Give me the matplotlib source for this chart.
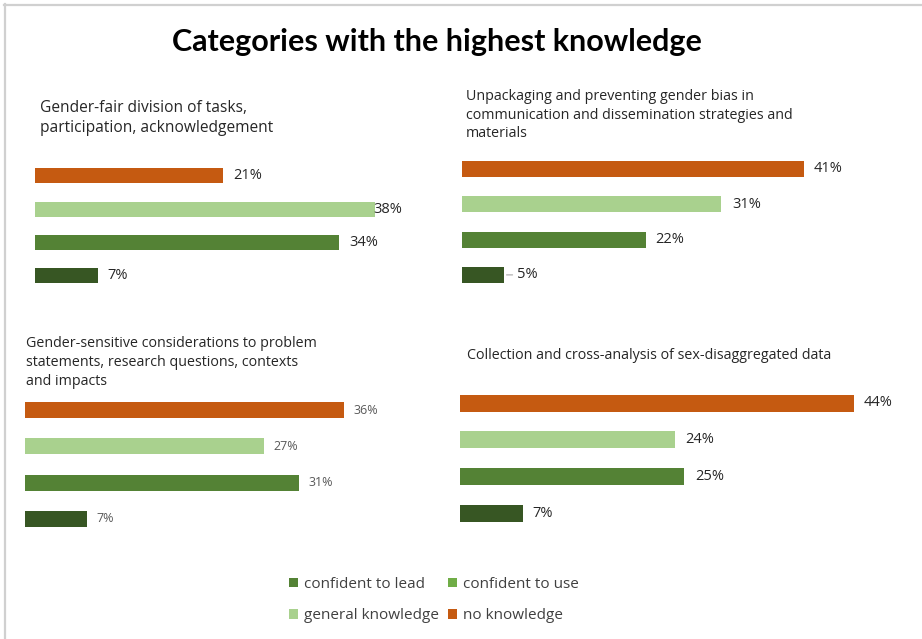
import matplotlib
matplotlib.use("Agg")
import matplotlib.pyplot as plt
from matplotlib.patches import Patch
from matplotlib.lines import Line2D

# ---------------- data ----------------
title = "Categories with the highest knowledge"
panel_titles = [
    "Gender-fair division of tasks,\nparticipation, acknowledgement",
    "Unpackaging and preventing gender bias in\ncommunication and dissemination strategies and\nmaterials",
    "Gender-sensitive considerations to problem\nstatements, research questions, contexts\nand impacts",
    "Collection and cross-analysis of sex-disaggregated data",
]
# order of bars top -> bottom
bar_series = ["no knowledge", "general knowledge", "confident to use", "confident to lead"]
panel1_values = [21, 38, 34, 7]
panel2_values = [41, 31, 22, 5]
panel3_values = [36, 27, 31, 7]
panel4_values = [44, 24, 25, 7]
legend_labels = ["confident to lead", "confident to use", "general knowledge", "no knowledge"]

# ---------------- style ----------------
W, H = 922, 639
bar_colors = ["#C55A11", "#A9D18E", "#548235", "#375623"]
legend_colors = ["#548235", "#70AD47", "#A9D18E", "#C55A11"]
txt_color = "#262626"
FONT = "Open Sans"

fig = plt.figure(figsize=(W / 100, H / 100), dpi=100)
fig.patch.set_facecolor("white")


def px_axes(left, top, width, height):
    return fig.add_axes([left / W, 1 - (top + height) / H, width / W, height / H])


# panel layout: (bar start x, px per %, first bar centre y, spacing, bar height px)
layouts = [
    (35, 8.95, 176, 33.3, 15),
    (462, 8.35, 169, 35.3, 16),
    (25, 8.85, 410, 36.3, 16),
    (460, 8.95, 403, 36.7, 17),
]
# panel title: (x, y of top, font size, line spacing)
title_pos = [(40, 100, 11.2, 1.3), (466, 89, 10.3, 1.33), (26, 336, 10.3, 1.38), (467, 348, 10.3, 1.3)]
label_offsets = [
    [10, -2, 10, 10],
    [9, 11, 10, 13],
    [10, 9, 9, 10],
    [10, 10, 11, 10],
]
label_styles = [
    dict(fontsize=10.5, color=txt_color),
    dict(fontsize=10.5, color=txt_color),
    dict(fontsize=9, color="#595959"),
    dict(fontsize=10.5, color=txt_color),
]
all_values = [panel1_values, panel2_values, panel3_values, panel4_values]

for i, (vals, lay) in enumerate(zip(all_values, layouts)):
    x0, scale, yc0, sp, bh = lay
    xmax = 48
    ax = px_axes(x0, yc0 - sp / 2, xmax * scale, sp * 4)
    ypos = list(range(len(vals)))
    ax.barh(ypos, vals, height=bh / sp, color=bar_colors, edgecolor="none")
    ax.set_xlim(0, xmax)
    ax.set_ylim(3.5, -0.5)
    ax.axis("off")
    for j, v in enumerate(vals):
        kw = {}
        if i == 1 and j == 3:
            kw["arrowprops"] = dict(arrowstyle="-", color="#A6A6A6", lw=0.8,
                                    shrinkA=1, shrinkB=2)
        ax.annotate(f"{v}%", xy=(v, j), xytext=(label_offsets[i][j], 0),
                    textcoords="offset pixels", va="center", ha="left",
                    family=FONT, **label_styles[i], **kw)
    tx, ty, fs, ls = title_pos[i]
    fig.text(tx / W, 1 - ty / H, panel_titles[i], ha="left", va="top",
             family=FONT, fontsize=fs, color=txt_color, linespacing=ls)

fig.text(437 / W, 1 - 42 / H, title, ha="center", va="center",
         family="Lato", fontweight="bold", fontsize=22, color="black")

# legend: matplotlib fills column-wise, reorder so rows read lead/use, general/no
order = [0, 2, 1, 3]
handles = [Patch(facecolor=legend_colors[k], edgecolor="none") for k in order]
labels = [legend_labels[k] for k in order]
fig.legend(handles, labels, ncol=2, loc="center",
           bbox_to_anchor=(434 / W, 1 - 600 / H), frameon=False,
           prop=dict(family=FONT, size=11), labelcolor="#404040",
           handlelength=0.55, handleheight=0.55, handletextpad=0.4,
           columnspacing=0.6, labelspacing=1.1)

# chart border (top and left lines)
fig.add_artist(Line2D([4 / W, 1], [1 - 4.5 / H, 1 - 4.5 / H], color="#D0D0D0", lw=1.6,
                      transform=fig.transFigure))
fig.add_artist(Line2D([4.5 / W, 4.5 / W], [0, 1 - 4 / H], color="#D0D0D0", lw=1.6,
                      transform=fig.transFigure))

fig.savefig("out.png", dpi=100, facecolor="white")
